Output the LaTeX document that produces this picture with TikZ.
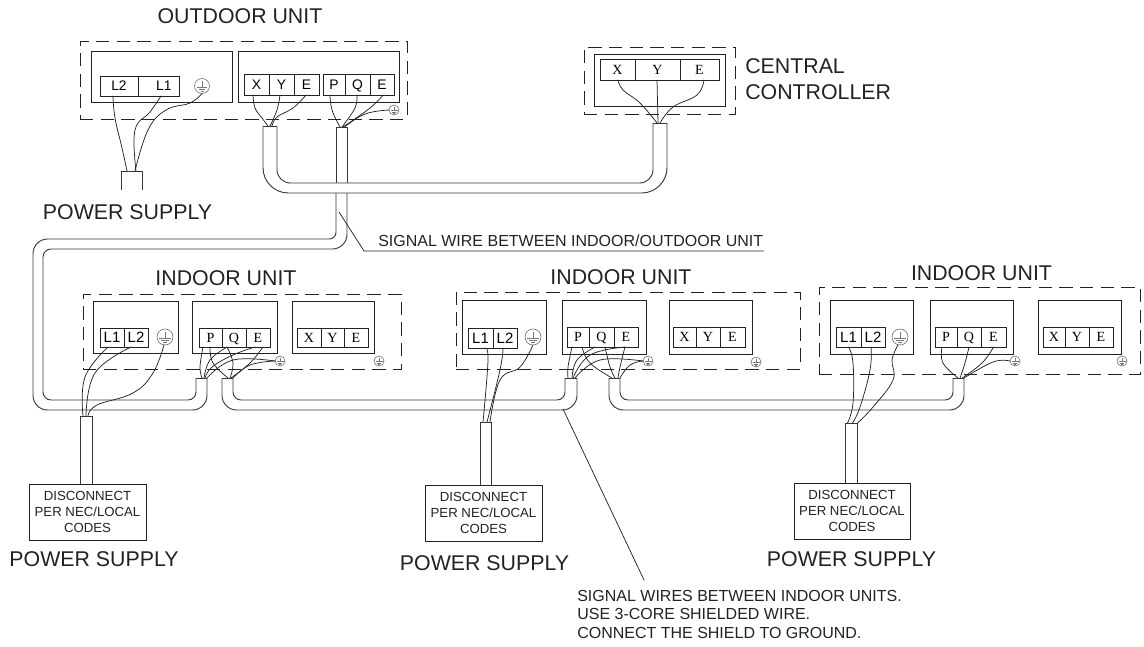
\documentclass[tikz,border=0pt]{standalone}
\usepackage{fontspec}
\setmainfont{Liberation Sans}
\newfontfamily\serifterm{Liberation Serif}
\usetikzlibrary{calc}
\definecolor{ink}{HTML}{222222}
\definecolor{soft}{HTML}{777777}
\tikzset{
  boxline/.style={draw=ink,line width=0.75pt,inner sep=0pt,outer sep=0pt,rectangle},
  dashbox/.style={boxline,line width=0.7pt,dash pattern=on 10pt off 5.5pt},
  bigtext/.style={text=ink,font=\fontsize{16}{18}\selectfont,inner sep=0pt},
  smalltext/.style={text=ink,font=\fontsize{12}{13.9}\selectfont,inner sep=0pt},
  sanscell/.style={font=\fontsize{10.4}{12}\selectfont,text height=7.4pt,text depth=0pt},
  boldcell/.style={font=\fontsize{11.2}{12}\selectfont,text height=8pt,text depth=0pt},
  serifcell/.style={font=\serifterm\fontsize{10.5}{12}\selectfont,text height=7pt,text depth=0pt},
  wireline/.style={draw=ink,line width=0.55pt,line cap=round},
  cableline/.style={draw=ink!90,line width=0.7pt},
  discbox/.style={boxline,align=center,font=\fontsize{9.9}{12}\selectfont,text=ink},
}
% rectangle given by pixel edges: name, x0, x1, y0, y1, style, text
\newcommand{\pxbox}[7]{\node[boxline,#6,minimum width={(#3-#2)*0.75pt},minimum height={(#5-#4)*0.75pt}] (#1) at ({(#2+#3)/2},{(#4+#5)/2}) {#7};}
% earth symbol: name, x, y, radius, colour
\newcommand{\earth}[5]{%
  \node[circle,draw=#5,line width=0.5pt,inner sep=0pt,outer sep=0pt,minimum size={2*#4*0.75pt}] (#1) at (#2,#3) {};
  \begin{scope}[shift={(#2,#3)},draw=#5,line width=0.5pt]
    \draw (0,{-0.65*#4}) -- (0,{0.15*#4});
    \draw ({-0.7*#4},{0.15*#4}) -- ({0.7*#4},{0.15*#4});
    \draw ({-0.45*#4},{0.42*#4}) -- ({0.45*#4},{0.42*#4});
    \draw ({-0.2*#4},{0.68*#4}) -- ({0.2*#4},{0.68*#4});
  \end{scope}}
% wire: start anchor, dx, middle coordinates, end coordinate, dx
\newcommand{\wire}[5]{\draw[wireline] plot[smooth,tension=0.7] coordinates {([xshift={(#2)*0.75pt}]#1) #3 ([xshift={(#5)*0.75pt}]#4)};}
% cable cap
\newcommand{\capline}[2]{\draw[cableline] ([xshift={-(#2)*0.75pt}]#1) -- ([xshift={(#2)*0.75pt}]#1);}
\begin{document}
\begin{tikzpicture}[x=0.75pt,y=-0.75pt]
\useasboundingbox (0,0) rectangle (1144,646);

% ---------- cable ends
\coordinate (capOS) at (270,126);
\coordinate (capOP) at (341.5,127);
\coordinate (capCC) at (660,123);
\coordinate (capOW) at (131.5,171);
\coordinate (cap1L) at (201.5,378);
\coordinate (cap1R) at (227.5,378);
\coordinate (cap2L) at (571,378);
\coordinate (cap2R) at (614.5,378);
\coordinate (cap3)  at (958.5,378);
\coordinate (pw1)   at (86,416);
\coordinate (pw2)   at (485.5,422);
\coordinate (pw3)   at (851,423);
\coordinate (pw1L) at (80,416);  \coordinate (pw1R) at (92,416);
\coordinate (pw2L) at (480,422); \coordinate (pw2R) at (491,422);
\coordinate (pw3L) at (845,423); \coordinate (pw3R) at (857,423);

% ---------- outdoor unit
\node[bigtext] (tOut) at (240,16) {OUTDOOR UNIT};
\pxbox{dOut}{80}{407}{41}{119}{dashbox}{}
\pxbox{bOutA}{91}{232}{51}{102}{}{}
\pxbox{bOutB}{238}{399}{51}{102}{}{}
\pxbox{oL2}{100}{138}{76}{96}{sanscell}{L2}
\pxbox{oL1}{138}{179}{76}{96}{sanscell}{\hspace*{8pt}L1}
\earth{oG}{202}{86}{7.5}{soft}
\pxbox{oX}{244}{269}{74}{95}{sanscell}{X}
\pxbox{oY}{269}{294}{74}{95}{sanscell}{Y}
\pxbox{oE}{294}{319}{74}{95}{sanscell}{E}
\pxbox{oP}{323}{345}{74}{95}{sanscell}{P}
\pxbox{oQ}{345}{370}{74}{95}{sanscell}{Q}
\pxbox{oEb}{370}{394}{74}{95}{sanscell}{E}
\earth{oGs}{394}{110}{5}{soft}

% ---------- central controller
\pxbox{dCC}{584}{735}{47}{114}{dashbox}{}
\pxbox{bCC}{594}{725}{54}{106}{}{}
\pxbox{ccX}{600}{635}{59}{80}{serifcell}{X}
\pxbox{ccY}{635}{680}{59}{80}{serifcell}{Y}
\pxbox{ccE}{680}{719}{59}{80}{serifcell}{E}
\node[bigtext,anchor=west] (tCC1) at (745,66) {CENTRAL};
\node[bigtext,anchor=west] (tCC2) at (745,92) {CONTROLLER};

% ---------- indoor unit 1
\node[bigtext] (tIn1) at (226,278) {INDOOR UNIT};
\pxbox{dI1}{83}{401}{294}{369}{dashbox}{}
\pxbox{b1A}{93}{178}{301}{353}{}{}
\pxbox{b1B}{192}{277}{301}{353}{}{}
\pxbox{b1C}{292}{374}{301}{353}{}{}
\pxbox{aL1}{100}{124}{328}{347}{boldcell}{L1}
\pxbox{aL2}{124}{148}{328}{347}{boldcell}{L2}
\earth{aG}{165}{337}{8}{soft}
\pxbox{aP}{199}{222}{328}{347}{serifcell}{P}
\pxbox{aQ}{222}{246}{328}{347}{serifcell}{Q}
\pxbox{aE}{246}{270}{328}{347}{serifcell}{E}
\pxbox{aXx}{297}{321}{328}{347}{serifcell}{X}
\pxbox{aYy}{321}{344}{328}{347}{serifcell}{Y}
\pxbox{aEe}{344}{368}{328}{347}{serifcell}{E}
\earth{aGs}{280}{361}{5}{soft}
\earth{aGt}{379}{361}{5}{soft}

% ---------- indoor unit 2
\node[bigtext] (tIn2) at (621,277) {INDOOR UNIT};
\pxbox{dI2}{456}{800}{292}{369}{dashbox}{}
\pxbox{b2A}{462}{546}{300}{354}{}{}
\pxbox{b2B}{562}{646}{300}{354}{}{}
\pxbox{b2C}{669}{752}{300}{354}{}{}
\pxbox{bL1}{468}{493}{328}{348}{boldcell}{L1}
\pxbox{bL2}{493}{517}{328}{348}{boldcell}{L2}
\earth{bG}{533}{337}{8}{soft}
\pxbox{bP}{567}{589}{327}{347}{serifcell}{P}
\pxbox{bQ}{589}{614}{327}{347}{serifcell}{Q}
\pxbox{bE}{614}{638}{327}{347}{serifcell}{E}
\pxbox{bXx}{673}{696}{327}{347}{serifcell}{X}
\pxbox{bYy}{696}{720}{327}{347}{serifcell}{Y}
\pxbox{bEe}{720}{745}{327}{347}{serifcell}{E}
\earth{bGs}{648}{361}{5}{soft}
\earth{bGt}{756}{362}{5}{soft}

% ---------- indoor unit 3
\node[bigtext] (tIn3) at (981.5,273) {INDOOR UNIT};
\pxbox{dI3}{819}{1140}{287}{374}{dashbox}{}
\pxbox{b3A}{830}{913}{300}{354}{}{}
\pxbox{b3B}{930}{1013}{300}{354}{}{}
\pxbox{b3C}{1038}{1121}{300}{354}{}{}
\pxbox{cL1}{836}{861}{327}{347}{boldcell}{L1}
\pxbox{cL2}{861}{885}{327}{347}{boldcell}{L2}
\earth{cG}{900}{337}{8}{soft}
\pxbox{cP}{935}{957}{327}{347}{serifcell}{P}
\pxbox{cQ}{957}{981}{327}{347}{serifcell}{Q}
\pxbox{cE}{981}{1006}{327}{347}{serifcell}{E}
\pxbox{cXx}{1043}{1065}{327}{347}{serifcell}{X}
\pxbox{cYy}{1065}{1089}{327}{347}{serifcell}{Y}
\pxbox{cEe}{1089}{1113}{327}{347}{serifcell}{E}
\earth{cGs}{1015}{361}{5}{soft}
\earth{cGt}{1122}{361}{5}{soft}

% ---------- disconnect boxes and supply labels
\pxbox{disc1}{29}{146}{484}{540}{discbox}{DISCONNECT\\PER NEC/LOCAL\\CODES}
\pxbox{disc2}{425}{542}{485}{541}{discbox}{DISCONNECT\\PER NEC/LOCAL\\CODES}
\pxbox{disc3}{794}{910}{483}{539}{discbox}{DISCONNECT\\PER NEC/LOCAL\\CODES}
\node[bigtext] (ps0) at (127.5,212) {POWER SUPPLY};
\node[bigtext] (ps1) at (94,559) {POWER SUPPLY};
\node[bigtext] (ps2) at (484.5,563) {POWER SUPPLY};
\node[bigtext] (ps3) at (851.5,559) {POWER SUPPLY};

% ---------- cables
\capline{capOS}{7}
\capline{capOP}{5.5}
\capline{capCC}{7}
\capline{cap1L}{5.5}
\capline{cap1R}{5.5}
\capline{cap2L}{6}
\capline{cap2R}{5.5}
\capline{cap3}{5.5}
\capline{pw1}{6}
\capline{pw2}{5.5}
\capline{pw3}{6}
\capline{capOW}{10.5}
% outdoor stub to power supply
\draw[cableline] ([xshift=-7.9pt]capOW) -- ++(0,19);
\draw[cableline] ([xshift=7.9pt]capOW) -- ++(0,19);
% outdoor XYE to central controller
\draw[cableline,rounded corners=19pt] (263,126) -- (263,193) -- (667,193) -- (667,123);
\draw[cableline,rounded corners=10pt] (277,126) -- (277,183) -- (653,183) -- (653,123);
% outdoor PQE stub
\draw[cableline] (336,127) -- (336,183);
\draw[cableline] (347,127) -- (347,183);
% long run to indoor unit 1
\draw[cableline,rounded corners=5pt] (336,193) -- (336,239) -- (180,239);
\draw[cableline,rounded corners=11pt] (180,239) -- (33,239) -- (33,410) -- (207,410) -- (207,378);
\draw[cableline,rounded corners=11pt] (347,193) -- (347,249) -- (180,249);
\draw[cableline,rounded corners=6pt] (180,249) -- (43,249) -- (43,400) -- (196,400) -- (196,378);
% unit 1 to unit 2
\draw[cableline,rounded corners=11pt] (222,378) -- (222,410) -- (577,410) -- (577,378);
\draw[cableline,rounded corners=6pt] (233,378) -- (233,400) -- (565,400) -- (565,378);
% unit 2 to unit 3
\draw[cableline,rounded corners=11pt] (609,378) -- (609,410) -- (964,410) -- (964,378);
\draw[cableline,rounded corners=6pt] (620,378) -- (620,400) -- (953,400) -- (953,378);
% supply stubs
\draw[cableline] (pw1L) -- (pw1L |- disc1.north);
\draw[cableline] (pw1R) -- (pw1R |- disc1.north);
\draw[cableline] (pw2L) -- (pw2L |- disc2.north);
\draw[cableline] (pw2R) -- (pw2R |- disc2.north);
\draw[cableline] (pw3L) -- (pw3L |- disc3.north);
\draw[cableline] (pw3R) -- (pw3R |- disc3.north);

% ---------- wires, outdoor unit
\wire{oL2.south}{-6}{(115,118) (122,148)}{capOW}{-4.5}
\wire{oL1.south}{2.5}{(150,112) (135,130)}{capOW}{4.5}
\wire{oG.south}{0}{(190,103) (166,110) (148,130)}{capOW}{3.5}
\wire{oX.south}{-3.5}{(255,108) (262,118)}{capOS}{-2}
\wire{oY.south}{-1.5}{(277,110)}{capOS}{0}
\wire{oE.south}{-0.5}{(293,108) (277,117)}{capOS}{2}
\wire{oP.south}{-4}{(332,110)}{capOP}{-1.5}
\wire{oQ.south}{-0.5}{(355,108)}{capOP}{0.5}
\wire{oEb.south}{1}{(370,108)}{capOP}{1.5}
\wire{oGs.west}{0}{(365,114)}{capOP}{3}
% central controller
\wire{ccX.south}{0.5}{(623,90) (640,103)}{capCC}{-3}
\wire{ccY.south}{-0.5}{}{capCC}{-2}
\wire{ccE.south}{4.5}{(697,95) (673,107)}{capCC}{0}

% ---------- wires, unit 1
\wire{aL1.south}{-4}{(85,377)}{pw1}{-3}
\wire{aL2.south}{-5}{(95,373)}{pw1}{0}
\wire{aG.south}{-1}{(153,373) (133,393) (97,405)}{pw1}{2}
\wire{aP.south}{-7.5}{(200,367)}{cap1L}{0.5}
\wire{aQ.south}{-7}{(210,360)}{cap1L}{2.5}
\wire{aE.south}{-3}{(233,355) (212,367)}{cap1L}{3.5}
\wire{aGs.west}{0}{(233,360)}{cap1L}{5.5}
\wire{aP.south}{-0.5}{(213,363)}{cap1R}{0.5}
\wire{aQ.south}{-7}{(233,363)}{cap1R}{2.5}
\wire{aE.south}{5}{(250,363)}{cap1R}{3.5}
\wire{aGs.west}{0}{(250,365)}{cap1R}{5.5}

% ---------- wires, unit 2
\wire{bL1.south}{4.5}{(488,360)}{pw2}{-2.5}
\wire{bL2.south}{-2}{(500,370)}{pw2}{1.5}
\wire{bG.south}{0}{(520,367) (500,380)}{pw2}{4.5}
\wire{bP.south}{-6}{(568,367)}{cap2L}{-3}
\wire{bQ.south}{-6.5}{(577,360)}{cap2L}{1}
\wire{bE.south}{-1}{(590,355)}{cap2L}{2}
\wire{bGs.west}{0}{(600,360)}{cap2L}{4}
\wire{bP.south}{4}{(590,363)}{cap2R}{-2.5}
\wire{bQ.south}{3.5}{(610,367)}{cap2R}{0.5}
\wire{bE.south}{-1}{(620,367)}{cap2R}{3.5}
\wire{bGs.west}{0}{(630,365)}{cap2R}{5.5}

% ---------- wires, unit 3
\wire{cL1.south}{0}{(853,363) (853,403)}{pw3}{-3.5}
\wire{cL2.south}{-2}{(870,370) (860,407)}{pw3}{1.5}
\wire{cG.south}{-2}{(892,360) (893,380) (873,407)}{pw3}{6.5}
\wire{cP.south}{-4}{(943,363)}{cap3}{-0.5}
\wire{cQ.south}{0}{(965,363)}{cap3}{1.5}
\wire{cE.south}{0}{(982,363)}{cap3}{3.5}
\wire{cGs.west}{0}{(993,362)}{cap3}{5.5}

% ---------- callouts
\node[smalltext,anchor=base west] (sig) at (378,246) {SIGNAL WIRE BETWEEN INDOOR/OUTDOOR UNIT};
\coordinate (sigStart) at (339,212);
\coordinate (sigCorner) at (364,251);
\draw[wireline] (sigStart) -- (sigCorner) -- (sigCorner -| sig.east);
\node[smalltext,anchor=north west,align=left] (note) at (577,590) {SIGNAL WIRES BETWEEN INDOOR UNITS.\\USE 3-CORE SHIELDED WIRE.\\CONNECT THE SHIELD TO GROUND.};
\coordinate (noteStart) at (563,409);
\coordinate (noteEnd) at (644,580);
\draw[wireline] (noteStart) -- (noteEnd);
\end{tikzpicture}
\end{document}
